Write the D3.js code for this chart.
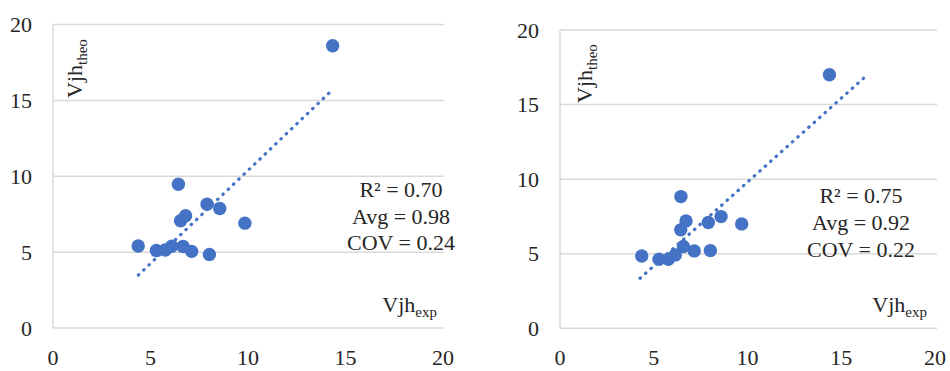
<!DOCTYPE html>
<html>
<head>
<meta charset="utf-8">
<script src="https://cdn.jsdelivr.net/npm/d3@7"></script>
<style>
  body { margin: 0; background: #fff; }
  svg text { font-family: "Liberation Serif", "DejaVu Serif", serif; fill: #262626; }
</style>
</head>
<body>
<svg id="chart" width="950" height="371"></svg>
<script>
'use strict';

// tick values shared by both panels
var xTicks = [0, 5, 10, 15, 20];
var yTicks = [0, 5, 10, 15, 20];

// left panel: experimental vs theoretical joint shear
var leftExp  = [14.34, 6.43, 4.37, 5.30, 5.76, 6.09, 6.67, 7.11, 8.02, 6.54, 6.80, 7.90, 8.55, 9.84];
var leftTheo = [18.60, 9.47, 5.40, 5.11, 5.14, 5.39, 5.37, 5.05, 4.85, 7.07, 7.40, 8.16, 7.87, 6.91];
var leftTrendExp  = [4.38, 14.25];
var leftTrendTheo = [3.49, 15.60];
var leftStats = ['R\u00b2 = 0.70', 'Avg = 0.98', 'COV = 0.24'];

// right panel
var rightExp  = [14.37, 6.45, 4.36, 5.28, 5.78, 6.15, 6.58, 7.16, 8.02, 6.44, 6.72, 7.91, 8.59, 9.69];
var rightTheo = [17.00, 8.83, 4.85, 4.63, 4.63, 4.92, 5.48, 5.19, 5.21, 6.60, 7.20, 7.09, 7.49, 7.00];
var rightTrendExp  = [4.27, 16.40];
var rightTrendTheo = [3.36, 17.00];
var rightStats = ['R\u00b2 = 0.75', 'Avg = 0.92', 'COV = 0.22'];

var svg = d3.select('#chart');
var blue = '#4472c4';
var grid = '#d9d9d9';

function drawPanel(p) {
  var x = d3.scaleLinear().domain([0, 20]).range(p.xRange);
  var y = d3.scaleLinear().domain([0, 20]).range(p.yRange);
  var g = svg.append('g');

  // gridlines (the 0 line doubles as the x axis)
  g.selectAll('line.grid')
    .data(yTicks)
    .enter().append('line')
    .attr('x1', x(0)).attr('x2', p.gridEnd)
    .attr('y1', function(d) { return y(d); })
    .attr('y2', function(d) { return y(d); })
    .attr('stroke', grid).attr('stroke-width', 1.5);

  g.append('line')
    .attr('x1', x(0)).attr('x2', x(0))
    .attr('y1', y(0)).attr('y2', y(20))
    .attr('stroke', grid).attr('stroke-width', 1.5);

  // y tick labels
  g.selectAll('text.ytick')
    .data(yTicks)
    .enter().append('text')
    .attr('x', x(0) - 21)
    .attr('y', function(d) { return y(d); })
    .attr('dy', '0.35em')
    .attr('text-anchor', 'end')
    .style('font-size', '22px')
    .text(function(d) { return d; });

  // x tick labels
  g.selectAll('text.xtick')
    .data(xTicks)
    .enter().append('text')
    .attr('x', function(d) { return x(d); })
    .attr('y', 365)
    .attr('text-anchor', 'middle')
    .style('font-size', '22px')
    .text(function(d) { return d; });

  // dotted trendline
  var trend = p.trendExp.map(function(v, i) { return [v, p.trendTheo[i]]; });
  g.append('path')
    .datum(trend)
    .attr('d', d3.line().x(function(d) { return x(d[0]); }).y(function(d) { return y(d[1]); }))
    .attr('fill', 'none')
    .attr('stroke', blue)
    .attr('stroke-width', 3.2)
    .attr('stroke-linecap', 'round')
    .attr('stroke-dasharray', '0.5 6.8');

  // points
  var pts = p.exp.map(function(v, i) { return [v, p.theo[i]]; });
  g.selectAll('circle')
    .data(pts)
    .enter().append('circle')
    .attr('cx', function(d) { return x(d[0]); })
    .attr('cy', function(d) { return y(d[1]); })
    .attr('r', 6.7)
    .attr('fill', blue);

  // stats box
  g.selectAll('text.stat')
    .data(p.stats)
    .enter().append('text')
    .attr('x', p.statX)
    .attr('y', function(d, i) { return p.statY + i * p.statStep; })
    .attr('text-anchor', 'middle')
    .style('font-size', '22px')
    .text(function(d) { return d; });

  // axis titles
  var yt = g.append('text')
    .attr('transform', 'translate(' + p.yTitle[0] + ',' + p.yTitle[1] + ') rotate(-90)')
    .style('font-size', '22px');
  yt.append('tspan').text('Vjh');
  yt.append('tspan').attr('dy', 5).style('font-size', '15px').text('theo');

  var xt = g.append('text')
    .attr('x', p.xTitle[0]).attr('y', p.xTitle[1])
    .attr('text-anchor', 'end')
    .style('font-size', '22px');
  xt.append('tspan').text('Vjh');
  xt.append('tspan').attr('dy', 5).style('font-size', '15px').text('exp');
}

drawPanel({
  xRange: [53, 443], yRange: [328, 24.5], gridEnd: 444,
  exp: leftExp, theo: leftTheo,
  trendExp: leftTrendExp, trendTheo: leftTrendTheo,
  stats: leftStats, statX: 401, statY: 197, statStep: 26.5,
  yTitle: [82, 98], xTitle: [437, 312]
});

drawPanel({
  xRange: [560, 935], yRange: [328.3, 30], gridEnd: 937,
  exp: rightExp, theo: rightTheo,
  trendExp: rightTrendExp, trendTheo: rightTrendTheo,
  stats: rightStats, statX: 861, statY: 203, statStep: 27,
  yTitle: [592, 103], xTitle: [927, 312]
});
</script>
</body>
</html>
